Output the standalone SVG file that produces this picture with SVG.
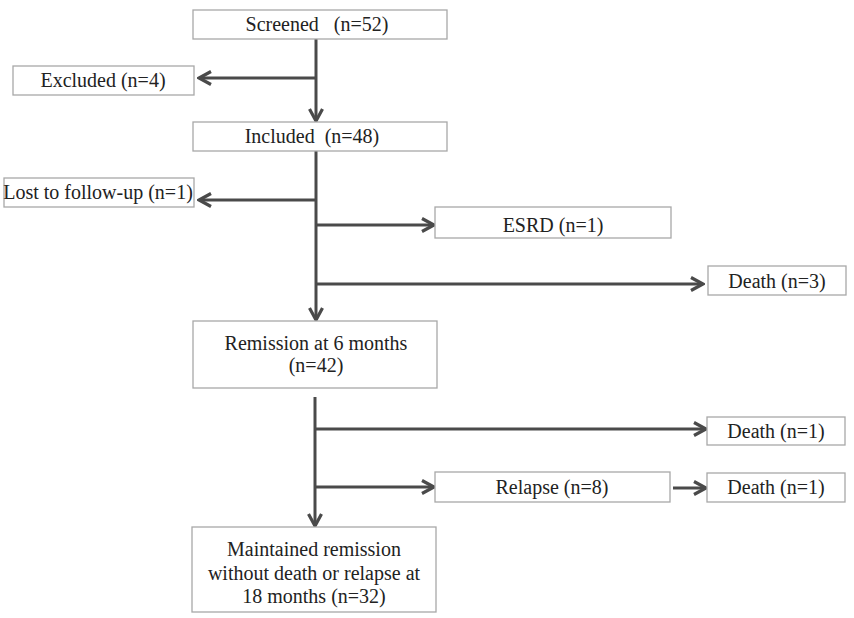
<svg xmlns="http://www.w3.org/2000/svg" width="854" height="618" viewBox="0 0 854 618">
<defs>
<style>
.box{fill:#fff;stroke:#a8a8a8;stroke-width:1.3}
.t{font-size:20px;fill:#222;text-anchor:middle}
.ln{fill:none;stroke:#4a4a4a;stroke-width:3}
.arr{marker-end:url(#ah)}
</style>
<marker id="ah" viewBox="0 0 16 16" refX="14" refY="8" markerWidth="16" markerHeight="16" markerUnits="userSpaceOnUse" orient="auto">
<path d="M2,1.5 L14,8 L2,14.5" fill="none" stroke="#4a4a4a" stroke-width="3.2"/>
</marker>
</defs>
<rect width="854" height="618" fill="#fff"/>
<g id="connectors">
<line class="ln" x1="316" y1="39" x2="316" y2="78"/>
<line class="ln arr" x1="316" y1="78" x2="316" y2="121"/>
<line class="ln arr" x1="316" y1="78" x2="199" y2="78"/>
<line class="ln" x1="316" y1="151" x2="316" y2="200"/>
<line class="ln arr" x1="316" y1="200" x2="316" y2="320"/>
<line class="ln arr" x1="316" y1="200" x2="199" y2="200"/>
<line class="ln arr" x1="316" y1="225" x2="434" y2="225"/>
<line class="ln arr" x1="316" y1="284" x2="703" y2="284"/>
<line class="ln" x1="315" y1="397" x2="315" y2="429"/>
<line class="ln arr" x1="315" y1="429" x2="315" y2="526"/>
<line class="ln arr" x1="315" y1="429" x2="706" y2="429"/>
<line class="ln arr" x1="315" y1="487" x2="434" y2="487"/>
<line class="ln arr" x1="673" y1="488" x2="706" y2="488"/>
</g>
<g font-family="Liberation Serif, DejaVu Serif, serif">
<g id="screened">
<rect class="box" x="193" y="10" width="254" height="29"/>
<text class="t" x="317" y="31" xml:space="preserve">Screened   (n=52)</text>
</g>
<g id="excluded">
<rect class="box" x="13" y="66" width="181" height="29"/>
<text class="t" x="103" y="87">Excluded (n=4)</text>
</g>
<g id="included">
<rect class="box" x="193" y="122" width="254" height="29"/>
<text class="t" x="312" y="143" xml:space="preserve">Included  (n=48)</text>
</g>
<g id="lost">
<rect class="box" x="4" y="178" width="190" height="29"/>
<text class="t" x="98" y="199" font-size="19">Lost to follow-up (n=1)</text>
</g>
<g id="esrd">
<rect class="box" x="435" y="207" width="236" height="31"/>
<text class="t" x="553" y="232">ESRD (n=1)</text>
</g>
<g id="death3">
<rect class="box" x="708" y="266" width="138" height="29"/>
<text class="t" x="777" y="288">Death (n=3)</text>
</g>
<g id="remission">
<rect class="box" x="193" y="321" width="244" height="67"/>
<text class="t" x="316" y="350">Remission at 6 months</text>
<text class="t" x="316" y="372">(n=42)</text>
</g>
<g id="death1a">
<rect class="box" x="707" y="417" width="138" height="28"/>
<text class="t" x="776" y="438">Death (n=1)</text>
</g>
<g id="relapse">
<rect class="box" x="435" y="472" width="235" height="30"/>
<text class="t" x="552" y="494">Relapse (n=8)</text>
</g>
<g id="death1b">
<rect class="box" x="707" y="473" width="138" height="29"/>
<text class="t" x="776" y="494">Death (n=1)</text>
</g>
<g id="maintained">
<rect class="box" x="192" y="527" width="244" height="85"/>
<text class="t" x="314" y="556">Maintained remission</text>
<text class="t" x="314" y="580">without death or relapse at</text>
<text class="t" x="314" y="603">18 months (n=32)</text>
</g>
</g>
</svg>
